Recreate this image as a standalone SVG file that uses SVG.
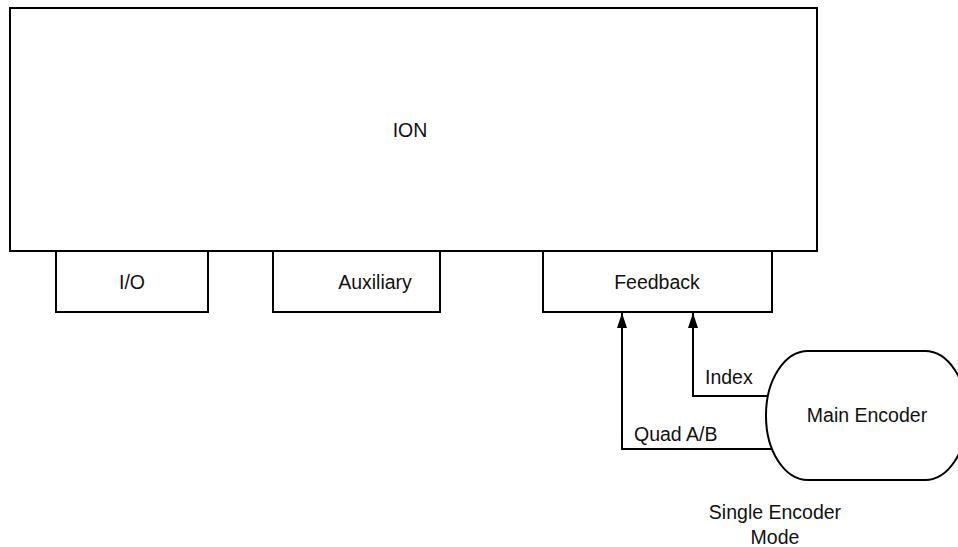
<svg xmlns="http://www.w3.org/2000/svg" width="958" height="547" viewBox="0 0 958 547">
<style>
.box{fill:#fff;stroke:#000;stroke-width:2}
.ln{fill:none;stroke:#000;stroke-width:2}
text{font-family:"Liberation Sans",Arial,sans-serif;font-size:19.5px;fill:#111}
.c{text-anchor:middle}
</style>
<defs>
<marker id="ah" markerWidth="15" markerHeight="10" refX="15" refY="5" orient="auto" markerUnits="userSpaceOnUse" viewBox="0 0 15 10">
<path d="M0,0 L15,5 L0,10 Z" fill="#000"/>
</marker>
</defs>
<rect width="958" height="547" fill="#fff"/>
<g id="ion"><rect class="box" x="10" y="8" width="807" height="243"/><text class="c" x="410" y="137">ION</text></g>
<g id="io"><rect class="box" x="56" y="251" width="152" height="61"/><text class="c" x="132" y="289">I/O</text></g>
<g id="auxiliary"><rect class="box" x="273" y="251" width="167" height="61"/><text class="c" x="375" y="289">Auxiliary</text></g>
<g id="feedback"><rect class="box" x="543" y="251" width="229" height="61"/><text class="c" x="657" y="289">Feedback</text></g>
<g id="encoder"><rect class="box" x="766" y="351" width="201" height="129" rx="42" ry="64"/><text class="c" x="867" y="422">Main Encoder</text></g>
<g id="connectors">
<path class="ln" d="M768,396 H693 V313" marker-end="url(#ah)"/>
<path class="ln" d="M772,449 H622 V313" marker-end="url(#ah)"/>
<text x="705" y="384">Index</text>
<text x="634" y="441">Quad A/B</text>
</g>
<g id="caption"><text class="c" x="775" y="519">Single Encoder</text><text class="c" x="775" y="544">Mode</text></g>
</svg>
